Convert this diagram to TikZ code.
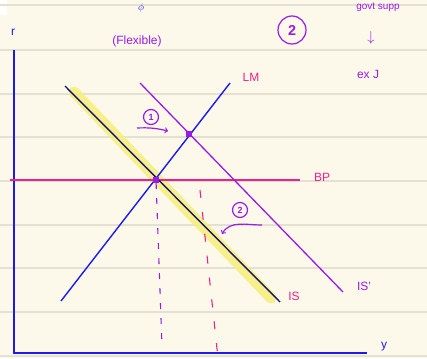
\documentclass[tikz,border=0pt]{standalone}
\usepackage{fontspec}
\setmainfont{Liberation Sans}
\begin{document}
\begin{tikzpicture}[x=1pt,y=-1pt,
  rule/.style={draw=ruleC,line width=1.2pt},
  axis/.style={draw=axisC,line width=1.6pt},
  curveblue/.style={draw=axisC,line width=1.4pt},
  curvenavy/.style={draw=navyC,line width=1.4pt},
  curvepurple/.style={draw=purpC,line width=1.3pt},
  curvepink/.style={draw=pinkC,line width=1.4pt},
  hl/.style={draw=hlC,line width=11pt,line cap=round,opacity=0.85},
  pinklbl/.style={text=pinkC,font=\large,inner sep=1pt},
  purplbl/.style={text=purpC,font=\large,inner sep=1pt},
  bluelbl/.style={text=axisC,font=\large,inner sep=1pt},
  circ/.style={circle,draw=purpC,line width=1.2pt,text=purpC,inner sep=0pt,minimum size=15pt,font=\small\bfseries},
  dotpt/.style={fill=purpC,minimum size=6pt,inner sep=0pt}
]
\definecolor{bgC}{HTML}{FCF9EB}
\definecolor{ruleC}{HTML}{E5E1D2}
\definecolor{axisC}{HTML}{1A1AF0}
\definecolor{navyC}{HTML}{141470}
\definecolor{purpC}{HTML}{9A1AE6}
\definecolor{pinkC}{HTML}{F0208A}
\definecolor{hlC}{HTML}{F6EE7A}
\useasboundingbox (0,0) rectangle (427,358);
\fill[bgC] (0,0) rectangle (427,358);
\fill[white] (0,0) rectangle (7,15);
% ruled lines
\foreach \yy in {5,50,94,137,181,225,268,312,356}
  \draw[rule] (0,\yy) -- (427,\yy);
% axes
\coordinate (ytop) at (14,50);
\coordinate (orig) at (14,353);
\coordinate (xend) at (367,353);
\draw[axis] (ytop) -- (orig) -- (xend);
\node[bluelbl] (rlbl) at (13,32) {r};
\node[bluelbl] (ylbl) at (384,347) {y};
% highlight IS
\coordinate (hlA) at (74,92);
\coordinate (hlB) at (271,298);
\draw[hl] (hlA) -- (hlB);
% BP
\coordinate (bpA) at (10,180);
\coordinate (bpB) at (300,180);
\draw[curvepink] (bpA) -- (bpB);
\node[pinklbl] (bplbl) at (322,177) {BP};
% LM
\coordinate (lmA) at (61,301);
\coordinate (lmB) at (230,83);
\draw[curveblue] (lmA) -- (lmB);
\node[pinklbl] (lmlbl) at (251,77) {LM};
% IS
\coordinate (isA) at (65,86);
\coordinate (isB) at (280,302);
\draw[curvenavy] (isA) -- (isB);
\node[pinklbl] (islbl) at (294,296) {IS};
% IS'
\coordinate (ispA) at (140,83);
\coordinate (ispB) at (343,292);
\draw[curvepurple] (ispA) -- (ispB);
\node[purplbl] (isplbl) at (364,286) {IS'};
% equilibrium points
\node[dotpt] (e1) at (156,180) {};
\node[dotpt] (e2) at (189,134) {};
% dashed drops
\coordinate (d1) at (162,346);
\draw[draw=purpC,line width=1.1pt,dash pattern=on 6pt off 9pt] (e1) -- (d1);
\coordinate (p1) at (200,190);
\coordinate (p2) at (218,358);
\draw[draw=pinkC,line width=1.1pt,dash pattern=on 8pt off 14pt] (p1) -- (p2);
% annotations
\node[purplbl] (flex) at (137,41) {(Flexible)};
\node[circ,minimum size=28pt,font=\Large\bfseries] (two) at (292,30) {2};
\node[purplbl,font=\normalsize] (supp) at (378,7) {govt supp};
\node[purplbl,font=\Large] (arrdown) at (371,38) {$\downarrow$};
\node[purplbl] (exj) at (368,74) {ex J};
\node[bluelbl,font=\normalsize] (phi) at (141,8) {$\phi$};
% marker 1
\node[circ] (c1) at (151,117) {1};
\coordinate (a1s) at (137,128);
\coordinate (a1e) at (168,131);
\draw[draw=purpC,line width=1.2pt,->] (a1s) to[bend left=8] (a1e);
% marker 2
\node[circ] (c2) at (240,210) {2};
\coordinate (a2s) at (262,225);
\coordinate (a2e) at (222,234);
\draw[draw=purpC,line width=1.2pt,->] (a2s) to[out=180,in=60] (a2e);
\end{tikzpicture}
\end{document}
